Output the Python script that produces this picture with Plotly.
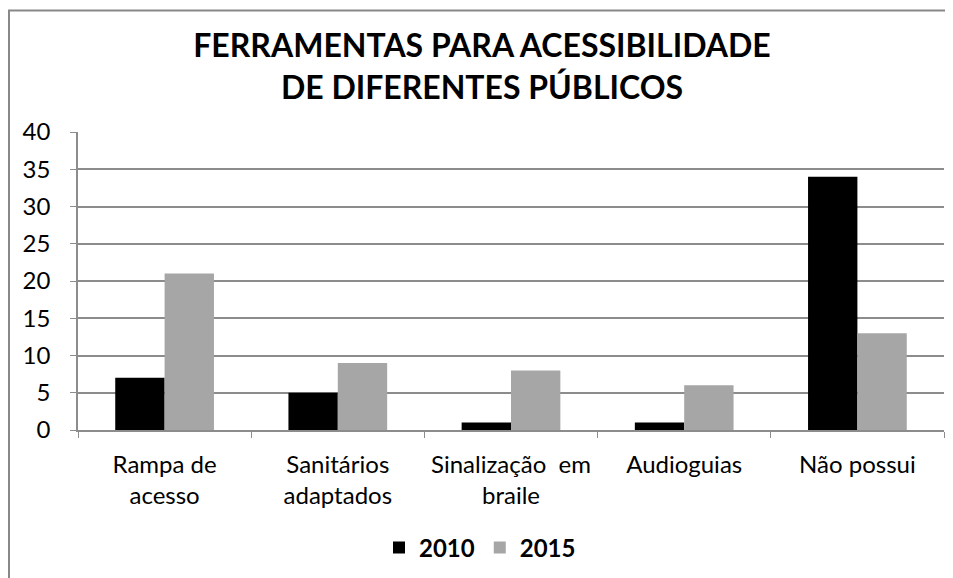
import plotly.graph_objects as go

categories = ["Rampa de<br>acesso", "Sanitários<br>adaptados", "Sinalização  em<br>braile",
              "Audioguias", "Não possui"]
values_2010 = [7, 5, 1, 1, 34]
values_2015 = [21, 9, 8, 6, 13]
y_ticks = [0, 5, 10, 15, 20, 25, 30, 35, 40]

FONT = "Lato"
GRID = "#8c8c8c"

# the page body has an 8px margin, so the figure is drawn from (8, 8)
OFF = 8
FIG_W, FIG_H = 953 - OFF, 578 - OFF
# plot area in window pixels
L, R, T, B = 78, 944, 132, 431
W, H = R - L, B - T


def px_x(p):
    return (p - L) / W


def px_y(p):
    return (B - p) / H


fig = go.Figure(data=[
    go.Bar(name="<b>2010</b>", x=categories, y=values_2010, marker_color="#000000",
           marker_line_width=0),
    go.Bar(name="<b>2015</b>", x=categories, y=values_2015, marker_color="#a6a6a6",
           marker_line_width=0),
])

fig.update_layout(
    width=FIG_W, height=FIG_H,
    margin=dict(l=L - OFF, r=953 - R, t=T - OFF, b=578 - B),
    paper_bgcolor="white", plot_bgcolor="white",
    font=dict(family=FONT, size=24, color="#000000"),
    title=dict(text="<b>FERRAMENTAS PARA ACESSIBILIDADE<br>DE DIFERENTES PÚBLICOS</b>",
               x=(482 - OFF) / FIG_W, xanchor="center",
               y=1 - (57 - OFF) / FIG_H, yanchor="middle", yref="container",
               font=dict(family=FONT, size=32, color="#000000")),
    barmode="group", bargap=0.43, bargroupgap=0,
    showlegend=True,
    legend=dict(orientation="h", x=px_x(480), xanchor="center", y=px_y(548), yanchor="middle",
                font=dict(family=FONT, size=24, color="#000000"),
                traceorder="normal"),
    xaxis=dict(showline=True, linecolor=GRID, linewidth=1.5, ticks="outside",
               tickson="boundaries", ticklen=6, tickcolor=GRID, showgrid=False,
               tickfont=dict(size=24), ticklabelstandoff=12),
    yaxis=dict(range=[0, 40], tickvals=y_ticks, showgrid=True, gridcolor=GRID, gridwidth=1.5,
               showline=True, linecolor=GRID, linewidth=1.5, ticks="outside", ticklen=6,
               tickcolor=GRID, zeroline=False, tickfont=dict(size=24), ticklabelstandoff=15),
    shapes=[
        dict(type="line", xref="paper", yref="paper", x0=px_x(8), x1=px_x(1000),
             y0=px_y(10), y1=px_y(10), line=dict(color="#888888", width=2)),
        dict(type="line", xref="paper", yref="paper", x0=px_x(9), x1=px_x(9),
             y0=px_y(10), y1=px_y(600), line=dict(color="#888888", width=2)),
    ],
)

fig.write_html("out.html")
